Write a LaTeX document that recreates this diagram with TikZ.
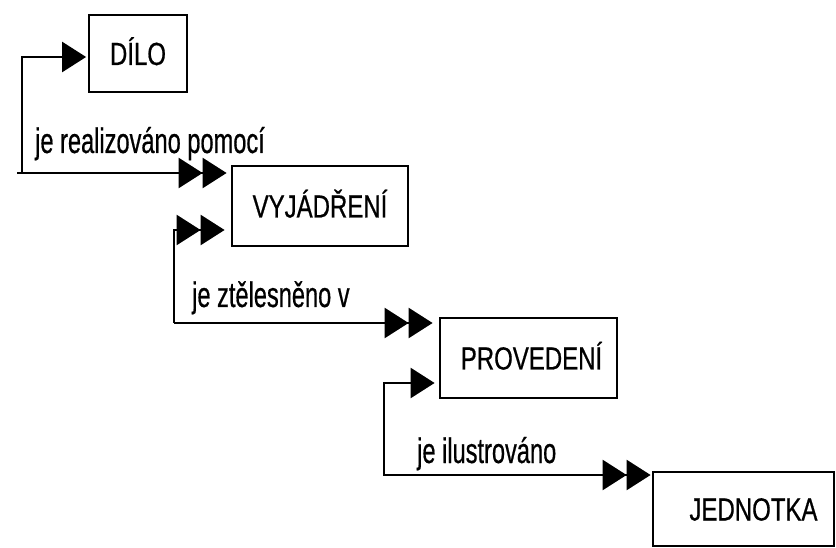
\documentclass[tikz,border=0pt]{standalone}
\usepackage{fontspec}
\setmainfont{Liberation Sans}
\newfontfamily\boxfont[FakeStretch=0.75,FakeBold=0.6]{Liberation Sans}
\newfontfamily\lblfont[FakeStretch=0.665,FakeBold=0.5]{Liberation Sans}
\usetikzlibrary{arrows.meta}
\begin{document}
\begin{tikzpicture}[x=1pt,y=-1pt,
  conceptbox/.style={draw,line width=2.8pt,inner sep=0pt,
    font=\boxfont\fontsize{32}{36}\selectfont,text height=23pt,text depth=0pt},
  relline/.style={line width=2.5pt},
  onetip/.style={relline,-{Triangle[length=24pt,width=30pt]}},
  twotips/.style={relline,-{Triangle[length=24pt,width=30pt,sep=0pt]Triangle[length=24pt,width=30pt]}},
  rellabel/.style={anchor=base west,inner sep=0pt,font=\lblfont\fontsize{35.5}{40}\selectfont}]
\useasboundingbox (0,0) rectangle (836,548);
\fill[white] (0,0) rectangle (836,548);

% concept boxes
\node[conceptbox,minimum width=98pt,minimum height=77pt] (dilo) at (138,53.5) {DÍLO};
\node[conceptbox,minimum width=176pt,minimum height=80pt] (vyj) at (320,206) {VYJÁDŘENÍ};
\node[conceptbox,minimum width=177pt,minimum height=80pt] (prov) at (528.5,358) {\hspace*{6pt}PROVEDENÍ};
\node[conceptbox,minimum width=181pt,minimum height=74pt] (jed) at (743.5,509) {\hspace*{20pt}JEDNOTKA};

% corner coordinates
\coordinate (a0) at (17,173);
\coordinate (a1) at (22,173);
\coordinate (a2) at (22,57);
\coordinate (b1) at (174,230);
\coordinate (b2) at (174,323);
\coordinate (c0) at (383,475);
\coordinate (c1) at (384,475);
\coordinate (c2) at (384,383);

% relation 1
\draw[onetip,shorten >=1.5pt] (a1) -- (a2) -- (a2 -| dilo.west);
\draw[twotips,shorten >=4pt] (a0) -- (a0 -| vyj.west);
\node[rellabel] (l1) at (35,153) {je realizováno pomocí};

% relation 2
\draw[twotips,shorten >=6pt] (b2) -- (b1) -- (b1 -| vyj.west);
\draw[twotips,shorten >=6pt] (b2) -- (b2 -| prov.west);
\node[rellabel] (l2) at (192,307) {je ztělesněno v};

% relation 3
\draw[onetip,shorten >=4pt] (c1) -- (c2) -- (c2 -| prov.west);
\draw[twotips,shorten >=1pt] (c0) -- (c0 -| jed.west);
\node[rellabel] (l3) at (417,463) {je ilustrováno};
\end{tikzpicture}
\end{document}
